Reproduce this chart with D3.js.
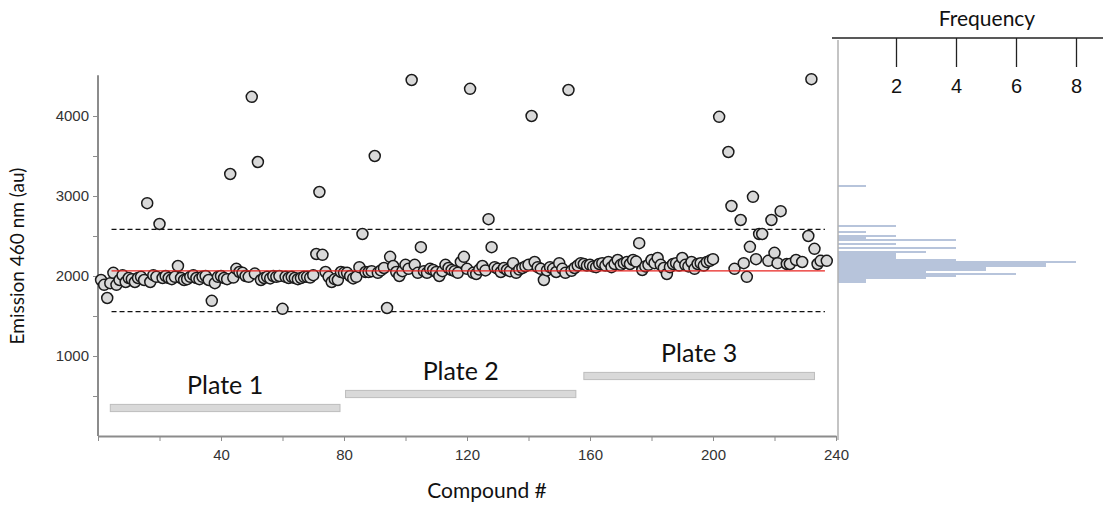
<!DOCTYPE html>
<html>
<head>
<meta charset="utf-8">
<script src="https://cdn.jsdelivr.net/npm/d3@7"></script>
<style>
  html, body { margin: 0; padding: 0; background: #fff; }
  svg { display: block; }
  .tick text { font-family: "Liberation Sans Narrow", "Liberation Sans", sans-serif; }
</style>
</head>
<body>
<svg id="chart" width="1103" height="506"></svg>
<script>
// ---------------- DATA ----------------
// Emission (au) for compounds 1..237 (null = no compound plotted)
const emission = [
  1950,1890,1725,1910,2040,1890,1950,2010,1925,1975,
  1960,1925,1975,1990,1950,2910,1925,2010,1990,2650,
  1975,2000,1975,1960,1990,2125,1975,1950,1960,1990,
  2010,1975,1960,1990,2000,1950,1690,1910,1990,2000,
  1975,1960,3275,1980,2090,2050,2040,2000,1990,4240,
  2030,3425,1950,1975,1990,1970,2000,1990,2000,1590,
  1990,1975,1990,1975,1960,1975,1990,1990,1980,2010,
  2275,3050,2265,2050,1990,1925,1960,1950,2050,2040,
  2040,2000,1970,1990,2110,2525,2050,2050,2060,3500,
  2040,2070,2100,1600,2240,2125,2050,2000,2060,2140,
  2090,4450,2140,2040,2360,2060,2040,2090,2075,2050,
  2000,2060,2140,2100,2075,2060,2040,2175,2240,2090,
  4340,2040,2025,2080,2125,2070,2710,2360,2110,2090,
  2050,2100,2075,2060,2160,2040,2080,2100,2120,2140,
  4000,2175,2110,2090,1950,2070,2110,2090,2050,2160,
  2090,2040,4325,2065,2100,2130,2160,2150,2130,2140,
  2120,2110,2150,2160,2130,2175,2110,2150,2200,2140,
  2160,2175,2150,2200,2180,2410,2075,2120,2140,2200,
  2160,2225,2140,2100,2025,2110,2150,2160,2130,2225,
  2140,2120,2175,2090,2150,2160,2130,2175,2190,2210,
  null,3990,null,null,3550,2875,2090,null,2700,2160,
  1990,2365,2990,2210,2525,2525,null,2190,2700,2290,
  2160,2810,null,2150,2150,null,2200,null,2175,null,
  2500,4460,2340,2150,2190,null,2190
];
const compounds = emission.map((v, i) => i + 1);

const meanValue = 2065;
const upperLimit = 2583;
const lowerLimit = 1554;
const limitStart = 4.4;
const limitEnd = 236.4;

const plateNames  = ["Plate 1", "Plate 2", "Plate 3"];
const plateStart  = [4, 80.5, 158];
const plateEnd    = [78.7, 155.4, 233];
const plateLevel  = [350, 525, 750];

const xTicks = [0,20,40,60,80,100,120,140,160,180,200,220,240];
const xLabels = [40,80,120,160,200,240];
const yTicks = [500,1000,1500,2000,2500,3000,3500,4000];
const yLabels = [1000,2000,3000,4000];

// Histogram (bin centre in au, frequency)
const histBins = [3125,2625,2550,2500,2475,2450,2400,2350,2300,2275,2250,2225,2200,2175,2150,2125,2100,2075,2050,2025,2000,1975,1950,1925];
const histFreq = [1,   2,   1,   2,   1,   4,   2,   4,   3,   2,   2,   2,   4,   8,   7,   7,   5,   5,   3,   6,   4,   3,   1,   1];
const histBinWidth = 25;
const freqTicks = [2,4,6,8];

// ---------------- CHART ----------------
const svg = d3.select("#chart");
const x = d3.scaleLinear().domain([0, 240]).range([98, 836]);
const y = d3.scaleLinear().domain([0, 4500]).range([436, 76]);
const hx = d3.scaleLinear().domain([0, 8]).range([836, 1076]);

const axisColor = "#8c8c8c";
const textColor = "#333";

// Y axis
const yAxis = svg.append("g")
  .attr("transform", `translate(${x(0)},0)`)
  .call(d3.axisLeft(y).tickValues(yTicks).tickSize(5).tickSizeOuter(0)
    .tickFormat(d => yLabels.includes(d) ? d : ""));
yAxis.select(".domain").attr("stroke", axisColor).attr("stroke-width", 2)
  .attr("d", `M0,${y(0)}V${y(4510)}`);
yAxis.selectAll(".tick line").attr("stroke", axisColor).attr("stroke-width", 1);
yAxis.selectAll(".tick text").attr("font-size", 15).attr("fill", textColor).attr("dx", -1);

// X axis
const xAxis = svg.append("g")
  .attr("transform", `translate(0,${y(0)})`)
  .call(d3.axisBottom(x).tickValues(xTicks).tickSize(5).tickSizeOuter(0)
    .tickFormat(d => xLabels.includes(d) ? d : ""));
xAxis.select(".domain").attr("stroke", axisColor).attr("stroke-width", 2);
xAxis.selectAll(".tick line").attr("stroke", axisColor).attr("stroke-width", 1);
xAxis.selectAll(".tick text").attr("font-size", 15).attr("fill", textColor).attr("dy", "1.05em");

// Limit lines
svg.append("line")
  .attr("x1", x(limitStart)).attr("x2", x(limitEnd))
  .attr("y1", y(upperLimit)).attr("y2", y(upperLimit))
  .attr("stroke", "#111").attr("stroke-width", 1.3).attr("stroke-dasharray", "5,3");
svg.append("line")
  .attr("x1", x(limitStart)).attr("x2", x(limitEnd))
  .attr("y1", y(lowerLimit)).attr("y2", y(lowerLimit))
  .attr("stroke", "#111").attr("stroke-width", 1.3).attr("stroke-dasharray", "5,3");

// Plate bars and labels
plateNames.forEach((name, i) => {
  const yTop = y(plateLevel[i] + 45);
  svg.append("rect")
    .attr("x", x(plateStart[i])).attr("y", yTop)
    .attr("width", x(plateEnd[i]) - x(plateStart[i]))
    .attr("height", y(plateLevel[i] - 45) - yTop)
    .attr("fill", "#d9d9d9").attr("stroke", "#bdbdbd").attr("stroke-width", 1);
  svg.append("text")
    .attr("x", (x(plateStart[i]) + x(plateEnd[i])) / 2)
    .attr("y", yTop - 10)
    .attr("text-anchor", "middle")
    .attr("font-family", "Lato, 'Open Sans', sans-serif")
    .attr("font-size", 25).attr("fill", "#111")
    .text(name);
});

// Points
const pts = compounds.map((c, i) => ({c, v: emission[i]})).filter(d => d.v !== null);
svg.append("g").selectAll("circle").data(pts).join("circle")
  .attr("cx", d => x(d.c)).attr("cy", d => y(d.v)).attr("r", 5.5)
  .attr("fill", "#d9d9d9").attr("stroke", "#1a1a1a").attr("stroke-width", 1.5);

// Mean line (drawn above the points)
svg.append("line")
  .attr("x1", x(limitStart)).attr("x2", x(limitEnd))
  .attr("y1", y(meanValue)).attr("y2", y(meanValue))
  .attr("stroke", "#e8231f").attr("stroke-width", 1.3);

// Axis titles
svg.append("text")
  .attr("transform", `translate(24,${(y(0)+y(4500))/2}) rotate(-90)`)
  .attr("text-anchor", "middle")
  .attr("font-family", "Lato, 'Open Sans', sans-serif")
  .attr("font-size", 19).attr("fill", "#111")
  .text("Emission 460 nm (au)");
svg.append("text")
  .attr("x", (x(0) + x(240)) / 2 + 20).attr("y", 498)
  .attr("text-anchor", "middle")
  .attr("font-family", "Lato, 'Open Sans', sans-serif")
  .attr("font-size", 21).attr("fill", "#111")
  .text("Compound #");

// ---------------- HISTOGRAM ----------------
const hist = histBins.map((b, i) => ({b, f: histFreq[i]}));
svg.append("g").selectAll("rect").data(hist).join("rect")
  .attr("x", hx(0) + 2)
  .attr("y", d => y(d.b + histBinWidth / 2))
  .attr("width", d => hx(d.f) - hx(0) - 2)
  .attr("height", d => y(d.b - histBinWidth / 2) - y(d.b + histBinWidth / 2))
  .attr("fill", "#7c93bd").attr("fill-opacity", 0.55);

// Histogram vertical base line
svg.append("line")
  .attr("x1", hx(0) + 2).attr("x2", hx(0) + 2)
  .attr("y1", 40).attr("y2", 440)
  .attr("stroke", "#b0b0b0").attr("stroke-width", 1.5);

// Frequency axis (top)
const fAxis = svg.append("g")
  .attr("transform", "translate(0,38)")
  .call(d3.axisBottom(hx).tickValues(freqTicks).tickSize(29).tickSizeOuter(0).tickPadding(12));
fAxis.select(".domain").attr("stroke", "#222").attr("stroke-width", 1.3)
  .attr("d", "M832,0H1103");
fAxis.selectAll(".tick line").attr("stroke", "#222").attr("stroke-width", 1.3);
fAxis.selectAll(".tick text")
  .attr("font-family", "Lato, 'Open Sans', sans-serif")
  .attr("font-size", 20).attr("fill", "#111");

svg.append("text")
  .attr("x", 987).attr("y", 26)
  .attr("text-anchor", "middle")
  .attr("font-family", "Lato, 'Open Sans', sans-serif")
  .attr("font-size", 21).attr("fill", "#111")
  .text("Frequency");
</script>
</body>
</html>
